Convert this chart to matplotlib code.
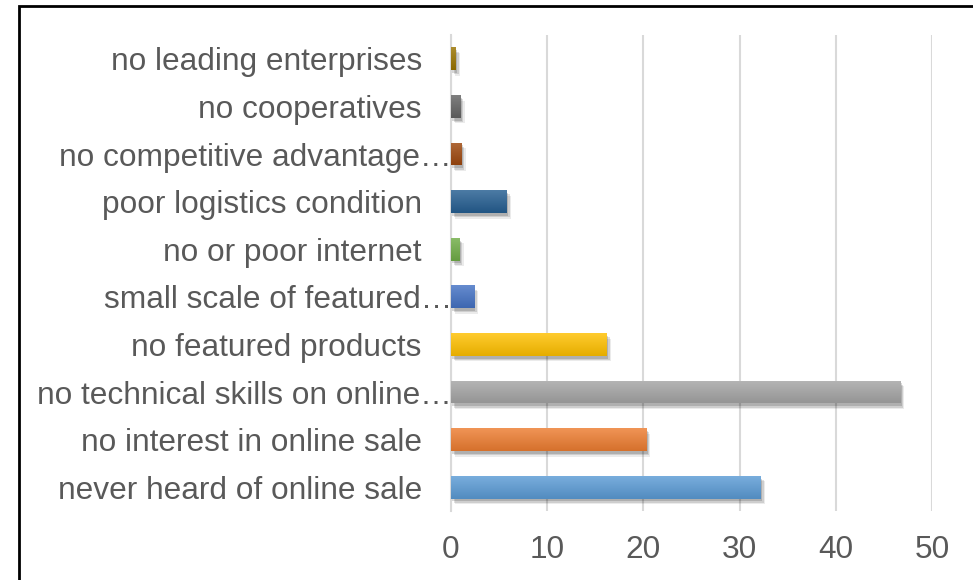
import numpy as np
import matplotlib.pyplot as plt
import matplotlib.colors as mcolors
import matplotlib.patheffects as pe
from matplotlib.transforms import ScaledTranslation
from matplotlib.patches import Rectangle

plt.rcParams['font.family'] = ['Liberation Sans', 'DejaVu Sans']

# Categories listed bottom to top, as drawn
categories = [
    'never heard of online sale',
    'no interest in online sale',
    'no technical skills on online…',
    'no featured products',
    'small scale of featured…',
    'no or poor internet',
    'poor logistics condition',
    'no competitive advantage…',
    'no cooperatives',
    'no leading enterprises',
]
values = [32.2, 20.3, 46.7, 16.2, 2.4, 0.9, 5.8, 1.1, 1.0, 0.5]
colors = ['#5b9bd5', '#ed7d31', '#a5a5a5', '#ffc000', '#4472c4',
          '#70ad47', '#255e91', '#9e480e', '#636363', '#997300']
xticks = [0, 10, 20, 30, 40, 50]

fig = plt.figure(figsize=(9.73, 5.80), dpi=100)
ax = fig.add_axes([451 / 973, 1 - 511 / 580, (932 - 451) / 973, (511 - 35) / 580])

ypos = np.arange(len(categories))
# soft drop shadow under each bar
shadow = [pe.SimplePatchShadow(offset=(3, -4), shadow_rgbFace='k', alpha=0.08),
          pe.SimplePatchShadow(offset=(2, -3), shadow_rgbFace='k', alpha=0.12),
          pe.SimplePatchShadow(offset=(1, -2), shadow_rgbFace='k', alpha=0.15),
          pe.Normal()]
bars = ax.barh(ypos, values, height=0.48, color=colors, zorder=3,
               path_effects=shadow)

# vertical gradient on each bar (lighter top, darker bottom)
for bar, c in zip(bars, colors):
    rgb = np.array(mcolors.to_rgb(c))
    top = rgb + (1 - rgb) * 0.18
    bot = rgb * 0.9
    t = np.linspace(0, 1, 64)[:, None]
    grad = top[None, :] * (1 - t) + bot[None, :] * t
    img = grad[:, None, :]
    x0, y0 = bar.get_x(), bar.get_y()
    w, h = bar.get_width(), bar.get_height()
    im = ax.imshow(img, extent=(x0, x0 + w, y0, y0 + h), origin='upper',
                   aspect='auto', zorder=4, interpolation='bilinear')
    im.set_clip_path(bar)

ax.set_xlim(0, 50)
ax.set_ylim(-0.5, len(categories) - 0.5)
ax.set_xticks(xticks)
ax.set_yticks(ypos, categories)
ax.grid(axis='x', color='#d9d9d9', linewidth=1.5, zorder=0)
ax.set_axisbelow(True)
for s in ['top', 'right', 'bottom']:
    ax.spines[s].set_visible(False)
ax.spines['left'].set_color('#d9d9d9')
ax.spines['left'].set_linewidth(1.5)
ax.tick_params(axis='both', length=0, labelsize=22.8, colors='#595959')
ax.tick_params(axis='y', pad=21)
ax.tick_params(axis='x', pad=17)

# truncated labels sit closer to the axis
for lbl in ax.get_yticklabels():
    if lbl.get_text().endswith('…'):
        lbl.set_transform(lbl.get_transform() +
                          ScaledTranslation(0.30, 0, fig.dpi_scale_trans))

# outer frame
fig.patches.append(Rectangle((19 / 973, -0.05), 1.1, 1 - 6 / 580 + 0.05,
                             transform=fig.transFigure, fill=False,
                             edgecolor='black', linewidth=2))

fig.savefig('out.png', dpi=100)
